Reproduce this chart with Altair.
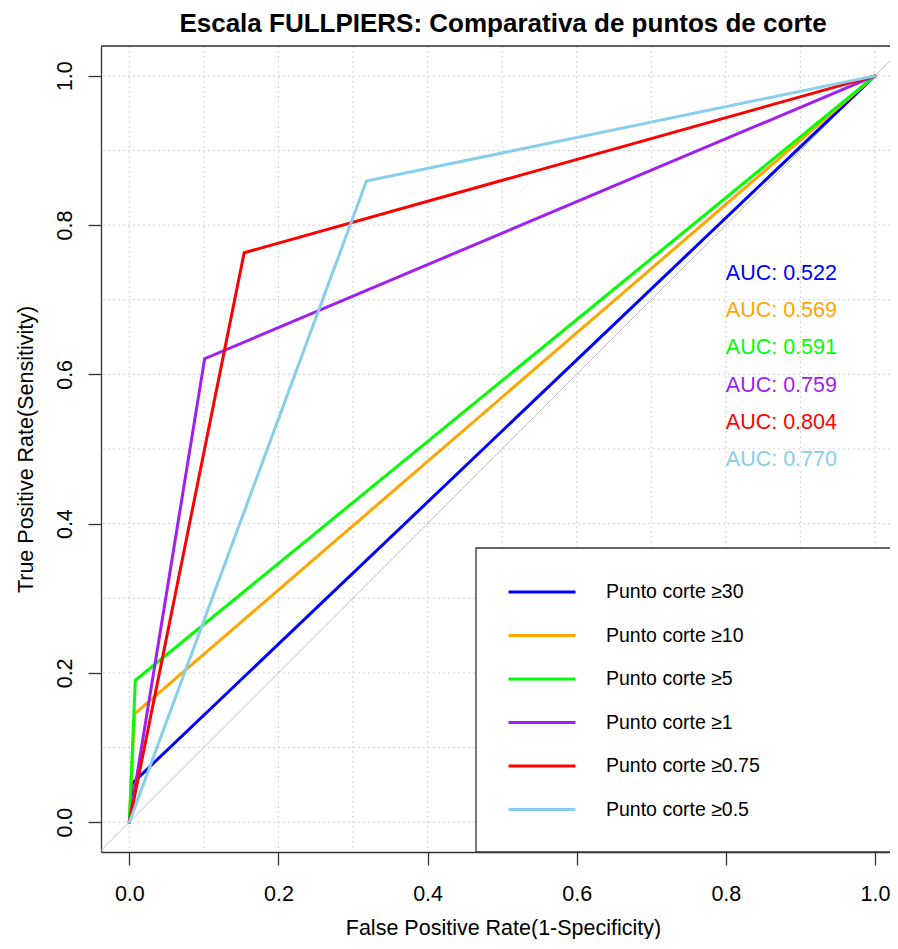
import altair as alt
import pandas as pd

# ---- data ----
series = ["Punto corte ≥30", "Punto corte ≥10", "Punto corte ≥5",
          "Punto corte ≥1", "Punto corte ≥0.75", "Punto corte ≥0.5"]
colors = ["#0000FF", "#FFA500", "#00FF00", "#A020F0", "#FF0000", "#87CEEB"]
knee_fpr = [0.004, 0.007, 0.008, 0.101, 0.154, 0.318]
knee_tpr = [0.052, 0.145, 0.190, 0.621, 0.763, 0.859]
auc = [0.522, 0.569, 0.591, 0.759, 0.804, 0.770]
auc_y = [0.735, 0.685, 0.635, 0.585, 0.535, 0.485]
auc_x = [0.80] * 6
grid_vals = [0.0, 0.1, 0.2, 0.3, 0.4, 0.5, 0.6, 0.7, 0.8, 0.9, 1.0]
tick_vals = [0.0, 0.2, 0.4, 0.6, 0.8, 1.0]
diag = [-0.05, 1.05]

title = "Escala FULLPIERS: Comparativa de puntos de corte"
x_title = "False Positive Rate(1-Specificity)"
y_title = "True Positive Rate(Sensitivity)"

# ---- tables ----
rows = []
for i, s in enumerate(series):
    rows.append({"serie": s, "step": 0, "fpr": 0.0, "tpr": 0.0})
    rows.append({"serie": s, "step": 1, "fpr": knee_fpr[i], "tpr": knee_tpr[i]})
    rows.append({"serie": s, "step": 2, "fpr": 1.0, "tpr": 1.0})
curves = pd.DataFrame(rows)
auc_df = pd.DataFrame({"x": auc_x, "y": auc_y, "col": colors,
                       "label": [f"AUC: {v:.3f}" for v in auc]})
grid_df = pd.DataFrame({"g": grid_vals})
diag_df = pd.DataFrame({"x": diag, "y": diag})
title_df = pd.DataFrame({"t": [title]})

W, H = 789, 806
FONT = "Liberation Sans"
xs = alt.Scale(domain=[-0.038, -0.038 + W / 745.6], nice=False, zero=False)
ys = alt.Scale(domain=[-0.04, 1.04], nice=False, zero=False)

x_axis = alt.Axis(values=tick_vals, format=".1f", grid=False, tickSize=13,
                  tickColor="#333333", tickWidth=1.3, domainColor="#333333",
                  domainWidth=1.3, labelFontSize=21.5, labelColor="black",
                  labelFont=FONT, labelBaseline="alphabetic", labelPadding=35,
                  labelFlush=False, labelOverlap=False, title=x_title,
                  titleFont=FONT, titleFontSize=21.5, titleFontWeight="normal",
                  titleColor="black", titleX=402, titleY=82,
                  titleAlign="center", titleBaseline="alphabetic")
y_axis = alt.Axis(values=tick_vals, format=".1f", grid=False, tickSize=13,
                  tickColor="#333333", tickWidth=1.3, domainColor="#333333",
                  domainWidth=1.3, labelFontSize=21.5, labelColor="black",
                  labelFont=FONT, labelAngle=270, labelAlign="center",
                  labelBaseline="alphabetic", labelPadding=17,
                  labelFlush=False, labelOverlap=False, title=y_title,
                  titleFont=FONT, titleFontSize=21.5, titleFontWeight="normal",
                  titleColor="black", titleAngle=270, titleX=-69, titleY=H / 2,
                  titleAlign="center", titleBaseline="alphabetic")

vgrid = alt.Chart(grid_df).mark_rule(color="#D3D3D3", strokeWidth=1,
                                     strokeDash=[2, 3]).encode(
    x=alt.X("g:Q", scale=xs, axis=x_axis))
hgrid = alt.Chart(grid_df).mark_rule(color="#D3D3D3", strokeWidth=1,
                                     strokeDash=[2, 3]).encode(
    y=alt.Y("g:Q", scale=ys, axis=y_axis))

diag_line = alt.Chart(diag_df).mark_line(color="#BEBEBE", strokeWidth=1,
                                         clip=True).encode(
    x=alt.X("x:Q", scale=xs), y=alt.Y("y:Q", scale=ys))

legend = alt.Legend(orient="none", legendX=428, legendY=533, title=None,
                    symbolType="M-3,0H3", symbolSize=499, symbolStrokeWidth=3,
                    labelFont=FONT, labelFontSize=19.5, labelColor="black",
                    labelBaseline="middle", labelOffset=51, rowPadding=20.5,
                    padding=0, strokeColor="transparent")

lines = alt.Chart(curves).mark_line(strokeWidth=3, clip=True,
                                    strokeCap="round").encode(
    x=alt.X("fpr:Q", scale=xs),
    y=alt.Y("tpr:Q", scale=ys),
    color=alt.Color("serie:N", scale=alt.Scale(domain=series, range=colors),
                    sort=series, legend=legend),
    order=alt.Order("step:Q"))

frame = alt.Chart(grid_df.head(1)).mark_rect(
    fill="white", stroke="#333333", strokeWidth=1.3, clip=True).encode(
    x=alt.value(375), x2=alt.value(W + 20), y=alt.value(502), y2=alt.value(H))

auc_text = alt.Chart(auc_df).mark_text(
    align="left", baseline="middle", font=FONT, fontSize=21.5).encode(
    x=alt.X("x:Q", scale=xs), y=alt.Y("y:Q", scale=ys),
    text="label:N", color=alt.Color("col:N", scale=None))

top_border = alt.Chart(grid_df.head(1)).mark_rule(
    color="#333333", strokeWidth=1.3).encode(
    x=alt.value(0), x2=alt.value(W + 5), y=alt.value(0))

title_text = alt.Chart(title_df).mark_text(
    align="center", baseline="alphabetic", font=FONT, fontSize=26,
    fontWeight="bold", color="black").encode(
    x=alt.value(402), y=alt.value(-14), text="t:N")

chart = alt.layer(vgrid, hgrid, diag_line, lines, frame, auc_text,
                  top_border, title_text).properties(
    width=W, height=H,
    padding={"left": 93, "top": 38, "right": 0, "bottom": 87},
    autosize=alt.AutoSizeParams(type="none"),
).configure_view(stroke=None).configure(background="white")

chart.save("out.html", embed_options={"renderer": "svg", "actions": False})
